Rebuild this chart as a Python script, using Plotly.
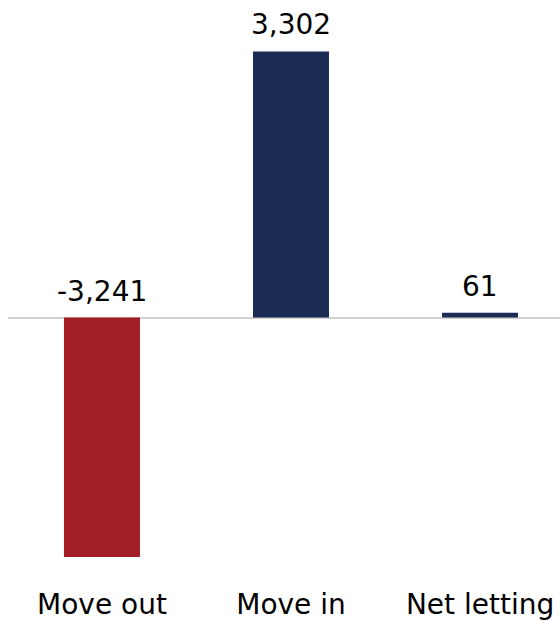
import plotly.graph_objects as go

categories = ["Move out", "Move in", "Net letting"]
values = [-3241, 3302, 61]
labels = ["-3,241", "3,302", "61"]
colors = ["#A31D24", "#1B2B53", "#1B2B53"]

FONT = "Verdana, DejaVu Sans, sans-serif"

fig = go.Figure()
fig.add_trace(go.Bar(
    x=list(range(len(categories))),
    y=values,
    marker=dict(color=colors, line=dict(width=0)),
    width=0.402,
    hoverinfo="skip",
))

for i, (v, t) in enumerate(zip(values, labels)):
    fig.add_annotation(
        x=i, y=max(v, 0), text=t, showarrow=False,
        yanchor="bottom", yshift=8,
        font=dict(family=FONT, size=28, color="#000000"),
    )

fig.update_layout(
    width=560, height=621,
    margin=dict(l=8, r=0, t=0, b=58),
    paper_bgcolor="white", plot_bgcolor="white",
    showlegend=False,
    xaxis=dict(
        range=[-0.497, 2.423],
        tickmode="array",
        tickvals=list(range(len(categories))),
        ticktext=categories,
        showgrid=False, zeroline=False, showline=False,
        ticks="outside", ticklen=22, tickcolor="rgba(0,0,0,0)",
        tickfont=dict(family=FONT, size=28, color="#000000"),
        fixedrange=True,
    ),
    yaxis=dict(
        range=[-2970, 3940],
        showgrid=False, showticklabels=False,
        zeroline=True, zerolinecolor="#D0D0D0", zerolinewidth=2,
        showline=False, fixedrange=True,
    ),
)

fig.write_html("out.html")
